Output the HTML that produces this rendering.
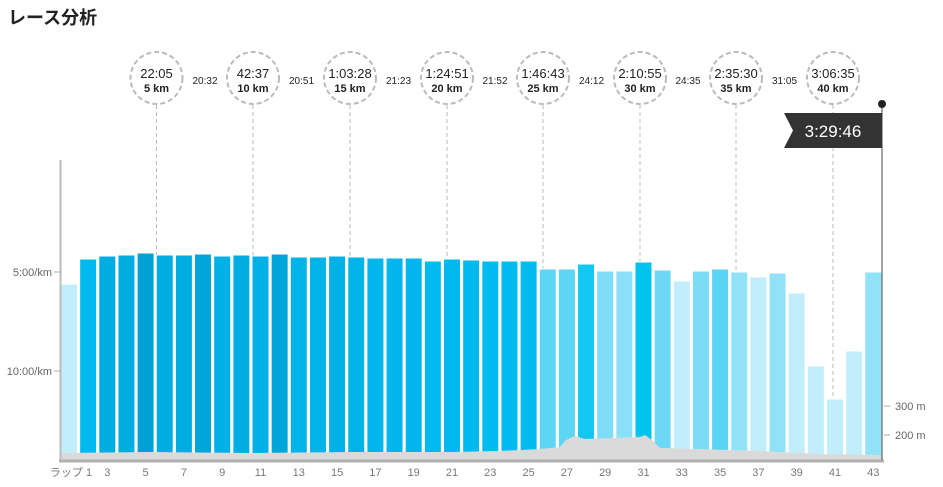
<!DOCTYPE html>
<html><head><meta charset="utf-8"><style>
html,body{margin:0;padding:0;background:#fff;width:943px;height:487px;overflow:hidden}
svg{display:block;font-family:"Liberation Sans","Noto Sans CJK JP",sans-serif}
</style></head><body>
<svg width="943" height="487" viewBox="0 0 943 487" xmlns="http://www.w3.org/2000/svg">
<text x="8" y="24" font-size="18" font-weight="bold" fill="#222">レース分析</text>
<g stroke="#bbb" stroke-width="1" stroke-dasharray="4,3" fill="none">
<line x1="156.5" y1="105" x2="156.5" y2="460"/><line x1="253" y1="105" x2="253" y2="460"/>
<line x1="350" y1="105" x2="350" y2="460"/><line x1="447" y1="105" x2="447" y2="460"/>
<line x1="543" y1="105" x2="543" y2="460"/><line x1="640" y1="105" x2="640" y2="460"/>
<line x1="736" y1="105" x2="736" y2="460"/><line x1="833" y1="105" x2="833" y2="460"/>
</g>
<g stroke="#fff" stroke-width="1">
<rect x="60.5" y="284" width="17" height="176" fill="#c2eefb"/>
<rect x="79.65" y="259" width="17" height="201" fill="#00b9ee"/>
<rect x="98.8" y="256" width="17" height="204" fill="#00ade2"/>
<rect x="117.95" y="255" width="17" height="205" fill="#00ade2"/>
<rect x="137.1" y="253" width="17" height="207" fill="#00a2d5"/>
<rect x="156.25" y="255" width="17" height="205" fill="#00ade2"/>
<rect x="175.4" y="255" width="17" height="205" fill="#00ade2"/>
<rect x="194.55" y="254" width="17" height="206" fill="#00a6d8"/>
<rect x="213.7" y="256" width="17" height="204" fill="#00b0e6"/>
<rect x="232.85" y="255" width="17" height="205" fill="#00ade2"/>
<rect x="252" y="256" width="17" height="204" fill="#00b0e6"/>
<rect x="271.15" y="254" width="17" height="206" fill="#00a6d8"/>
<rect x="290.3" y="257" width="17" height="203" fill="#00b4ea"/>
<rect x="309.45" y="257" width="17" height="203" fill="#00b4ea"/>
<rect x="328.6" y="256" width="17" height="204" fill="#00b0e6"/>
<rect x="347.75" y="257" width="17" height="203" fill="#00b4ea"/>
<rect x="366.9" y="258" width="17" height="202" fill="#00b6ec"/>
<rect x="386.05" y="258" width="17" height="202" fill="#00b6ec"/>
<rect x="405.2" y="258" width="17" height="202" fill="#00b6ec"/>
<rect x="424.35" y="261" width="17" height="199" fill="#00bbf0"/>
<rect x="443.5" y="259" width="17" height="201" fill="#00b8ed"/>
<rect x="462.65" y="260" width="17" height="200" fill="#00b9ee"/>
<rect x="481.8" y="261" width="17" height="199" fill="#00bbf0"/>
<rect x="500.95" y="261" width="17" height="199" fill="#00bbf0"/>
<rect x="520.1" y="261" width="17" height="199" fill="#00bbf0"/>
<rect x="539.25" y="269" width="17" height="191" fill="#5dd5f5"/>
<rect x="558.4" y="269" width="17" height="191" fill="#5dd5f5"/>
<rect x="577.55" y="264" width="17" height="196" fill="#14c7f2"/>
<rect x="596.7" y="271" width="17" height="189" fill="#7fdcf8"/>
<rect x="615.85" y="271" width="17" height="189" fill="#8ae0f8"/>
<rect x="635" y="262" width="17" height="198" fill="#00c3ee"/>
<rect x="654.15" y="270" width="17" height="190" fill="#6dd8f6"/>
<rect x="673.3" y="281" width="17" height="179" fill="#c2eefb"/>
<rect x="692.45" y="271" width="17" height="189" fill="#7cdcf7"/>
<rect x="711.6" y="269" width="17" height="191" fill="#5ad4f5"/>
<rect x="730.75" y="272" width="17" height="188" fill="#8fe2f8"/>
<rect x="749.9" y="277" width="17" height="183" fill="#c0edfb"/>
<rect x="769.05" y="273" width="17" height="187" fill="#8fe2f8"/>
<rect x="788.2" y="293" width="17" height="167" fill="#c2eefb"/>
<rect x="807.35" y="366" width="17" height="94" fill="#c2eefb"/>
<rect x="826.5" y="399" width="17" height="61" fill="#c2eefb"/>
<rect x="845.65" y="351" width="17" height="109" fill="#c2eefb"/>
<rect x="864.8" y="272" width="17" height="188" fill="#8fe2f8"/>
</g>
<polygon fill="#dadada" points="60,453 150,452 250,453 350,452 450,452 500,451 540,449 560,447 566,440 575,436 585,439 640,437 645,435 652,440 660,448 700,449 760,451 820,454 882,455 882,460 60,460"/>
<line x1="60.5" y1="160" x2="60.5" y2="461" stroke="#bbb" stroke-width="2"/>
<line x1="59" y1="461" x2="884" y2="461" stroke="#b0b0b0" stroke-width="3"/>
<g stroke="#aaa"><line x1="54" y1="272" x2="60" y2="272"/><line x1="54" y1="371" x2="60" y2="371"/>
<line x1="884" y1="406" x2="890" y2="406"/><line x1="884" y1="435" x2="890" y2="435"/></g>
<g font-size="11" fill="#666"><text x="52" y="276" text-anchor="end">5:00/km</text><text x="52" y="375" text-anchor="end">10:00/km</text>
<text x="895" y="410">300 m</text><text x="895" y="439">200 m</text></g>
<g font-size="11" fill="#777" text-anchor="middle">
<text x="71" y="476">ラップ 1</text><text x="107.3" y="476">3</text><text x="145.6" y="476">5</text><text x="183.9" y="476">7</text><text x="222.2" y="476">9</text><text x="260.5" y="476">11</text><text x="298.8" y="476">13</text><text x="337.1" y="476">15</text><text x="375.4" y="476">17</text><text x="413.7" y="476">19</text><text x="452" y="476">21</text><text x="490.3" y="476">23</text><text x="528.6" y="476">25</text><text x="566.9" y="476">27</text><text x="605.2" y="476">29</text><text x="643.5" y="476">31</text><text x="681.8" y="476">33</text><text x="720.1" y="476">35</text><text x="758.4" y="476">37</text><text x="796.7" y="476">39</text><text x="835" y="476">41</text><text x="873.3" y="476">43</text></g>
<g fill="#fff" stroke="#bbb" stroke-width="2" stroke-dasharray="5,3">
<circle cx="156.5" cy="78" r="26"/><circle cx="253" cy="78" r="26"/><circle cx="350" cy="78" r="26"/><circle cx="447" cy="78" r="26"/>
<circle cx="543" cy="78" r="26"/><circle cx="640" cy="78" r="26"/><circle cx="736" cy="78" r="26"/><circle cx="833" cy="78" r="26"/></g>
<g text-anchor="middle" fill="#222">
<g font-size="13"><text x="156.5" y="78">22:05</text><text x="253" y="78">42:37</text><text x="350" y="78">1:03:28</text><text x="447" y="78">1:24:51</text><text x="543" y="78">1:46:43</text><text x="640" y="78">2:10:55</text><text x="736" y="78">2:35:30</text><text x="833" y="78">3:06:35</text></g>
<g font-size="11" font-weight="bold"><text x="156.5" y="92">5 km</text><text x="253" y="92">10 km</text><text x="350" y="92">15 km</text><text x="447" y="92">20 km</text><text x="543" y="92">25 km</text><text x="640" y="92">30 km</text><text x="736" y="92">35 km</text><text x="833" y="92">40 km</text></g>
<g font-size="10"><text x="205" y="84">20:32</text><text x="301.5" y="84">20:51</text><text x="398.5" y="84">21:23</text><text x="495" y="84">21:52</text><text x="591.5" y="84">24:12</text><text x="688" y="84">24:35</text><text x="784.5" y="84">31:05</text></g></g>
<line x1="882" y1="104" x2="882" y2="460" stroke="#444" stroke-width="1"/>
<circle cx="882" cy="104" r="4" fill="#222"/>
<polygon points="784,113 882,113 882,148 784,148 793,130.5" fill="#333"/>
<text x="833" y="137" font-size="17" fill="#fff" text-anchor="middle">3:29:46</text>
</svg>
</body></html>
